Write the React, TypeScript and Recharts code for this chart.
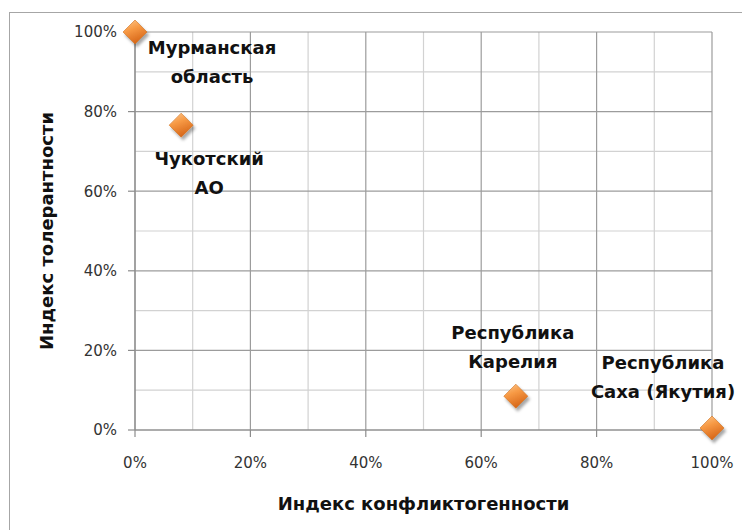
import {
  LabelList,
  ReferenceLine,
  Scatter,
  ScatterChart,
  XAxis,
  YAxis,
} from "recharts";

const regions = [
  "Мурманская область",
  "Чукотский АО",
  "Республика Карелия",
  "Республика Саха (Якутия)",
];
const labelLines = [
  ["Мурманская", "область"],
  ["Чукотский", "АО"],
  ["Республика", "Карелия"],
  ["Республика", "Саха (Якутия)"],
];
const conflictIndex = [0, 0.08, 0.66, 1.0];
const toleranceIndex = [1.0, 0.766, 0.085, 0.005];
const majorTicks = [0, 0.2, 0.4, 0.6, 0.8, 1];
const minorTicks = [0.1, 0.3, 0.5, 0.7, 0.9];

// where each label sits relative to its marker (first line centre)
const labelOffsets = [
  { dx: 77, dy: 16 },
  { dx: 28, dy: 34 },
  { dx: -3, dy: -63 },
  { dx: -49, dy: -65 },
];

const points = regions.map((name, i) => ({
  name,
  x: conflictIndex[i],
  y: toleranceIndex[i],
}));

const FONT = "'DejaVu Sans', sans-serif";
const pct = (v: number) => `${Math.round(v * 100)}%`;

const Diamond = (props: any) => {
  const { cx, cy } = props;
  const r = 12;
  const pts = `${cx},${cy - r} ${cx + r},${cy} ${cx},${cy + r} ${cx - r},${cy}`;
  return (
    <polygon
      points={pts}
      fill="url(#diamondFill)"
      stroke="#d0711f"
      strokeWidth={0.6}
      filter="url(#diamondShadow)"
    />
  );
};

const RegionLabel = (props: any) => {
  const { index } = props;
  const vb = props.viewBox ?? props;
  const cx = vb.x + (vb.width ?? 0) / 2;
  const cy = vb.y + (vb.height ?? 0) / 2;
  const off = labelOffsets[index];
  const lines = labelLines[index];
  return (
    <text
      x={cx + off.dx}
      y={cy + off.dy}
      textAnchor="middle"
      fontFamily={FONT}
      fontWeight="bold"
      fontSize={18}
      fill="#111"
    >
      {lines.map((line, i) => (
        <tspan key={i} x={cx + off.dx} dy={i === 0 ? "0.35em" : 29}>
          {line}
        </tspan>
      ))}
    </text>
  );
};

const YTitle = (props: any) => {
  const { viewBox } = props;
  const x = viewBox.x + 37;
  const y = viewBox.y + viewBox.height / 2;
  return (
    <text
      x={x}
      y={y}
      transform={`rotate(-90 ${x} ${y})`}
      textAnchor="middle"
      dy="0.35em"
      fontFamily={FONT}
      fontWeight="bold"
      fontSize={18}
      fill="#111"
    >
      Индекс толерантности
    </text>
  );
};

const XTitle = (props: any) => {
  const { viewBox } = props;
  const x = viewBox.x + viewBox.width / 2;
  const y = viewBox.y + viewBox.height - 10;
  return (
    <text
      x={x}
      y={y}
      textAnchor="middle"
      fontFamily={FONT}
      fontWeight="bold"
      fontSize={18}
      fill="#111"
    >
      Индекс конфликтогенности
    </text>
  );
};

export default function App() {
  return (
    <div
      style={{
        position: "absolute",
        left: 0,
        top: 0,
        width: 742,
        height: 530,
        overflow: "hidden",
        background: "#fff",
      }}
    >
      <div
        style={{
          position: "absolute",
          left: 9,
          top: 12,
          width: 780,
          height: 560,
          border: "1.5px solid #a6a6a6",
        }}
      />
      <div style={{ position: "absolute", left: 0, top: 0 }}>
        <ScatterChart
          width={742}
          height={530}
          margin={{ top: 32, right: 30, bottom: 10, left: 10 }}
        >
          <defs>
            <linearGradient id="diamondFill" x1="0" y1="0" x2="0.4" y2="1">
              <stop offset="0%" stopColor="#fcc88f" />
              <stop offset="45%" stopColor="#f79a45" />
              <stop offset="100%" stopColor="#d8681a" />
            </linearGradient>
            <filter id="diamondShadow" x="-50%" y="-50%" width="200%" height="200%">
              <feDropShadow dx="2" dy="3" stdDeviation="1.5" floodColor="#000" floodOpacity="0.35" />
            </filter>
          </defs>
          {minorTicks.map((t) => (
            <ReferenceLine key={`vx${t}`} x={t} stroke="#d2d2d2" strokeWidth={1.2} />
          ))}
          {minorTicks.map((t) => (
            <ReferenceLine key={`hy${t}`} y={t} stroke="#d2d2d2" strokeWidth={1.2} />
          ))}
          {majorTicks.map((t) => (
            <ReferenceLine key={`vX${t}`} x={t} stroke="#9c9c9c" strokeWidth={1.2} />
          ))}
          {majorTicks.map((t) => (
            <ReferenceLine key={`hY${t}`} y={t} stroke="#9c9c9c" strokeWidth={1.2} />
          ))}
          <XAxis
            type="number"
            dataKey="x"
            domain={[0, 1]}
            ticks={majorTicks}
            interval={0}
            tickFormatter={pct}
            height={90}
            tickSize={7}
            tickMargin={20}
            axisLine={{ stroke: "#8c8c8c", strokeWidth: 1.2 }}
            tickLine={{ stroke: "#8c8c8c", strokeWidth: 1.2 }}
            tick={{ fill: "#333", fontSize: 15, fontFamily: FONT }}
            label={<XTitle />}
          />
          <YAxis
            type="number"
            dataKey="y"
            domain={[0, 1]}
            ticks={majorTicks}
            interval={0}
            tickFormatter={pct}
            width={125}
            tickSize={7}
            tickMargin={11}
            axisLine={{ stroke: "#8c8c8c", strokeWidth: 1.2 }}
            tickLine={{ stroke: "#8c8c8c", strokeWidth: 1.2 }}
            tick={{ fill: "#333", fontSize: 15, fontFamily: FONT }}
            label={<YTitle />}
          />
          <Scatter data={points} shape={<Diamond />} isAnimationActive={false}>
            <LabelList dataKey="name" content={<RegionLabel />} />
          </Scatter>
        </ScatterChart>
      </div>
    </div>
  );
}
